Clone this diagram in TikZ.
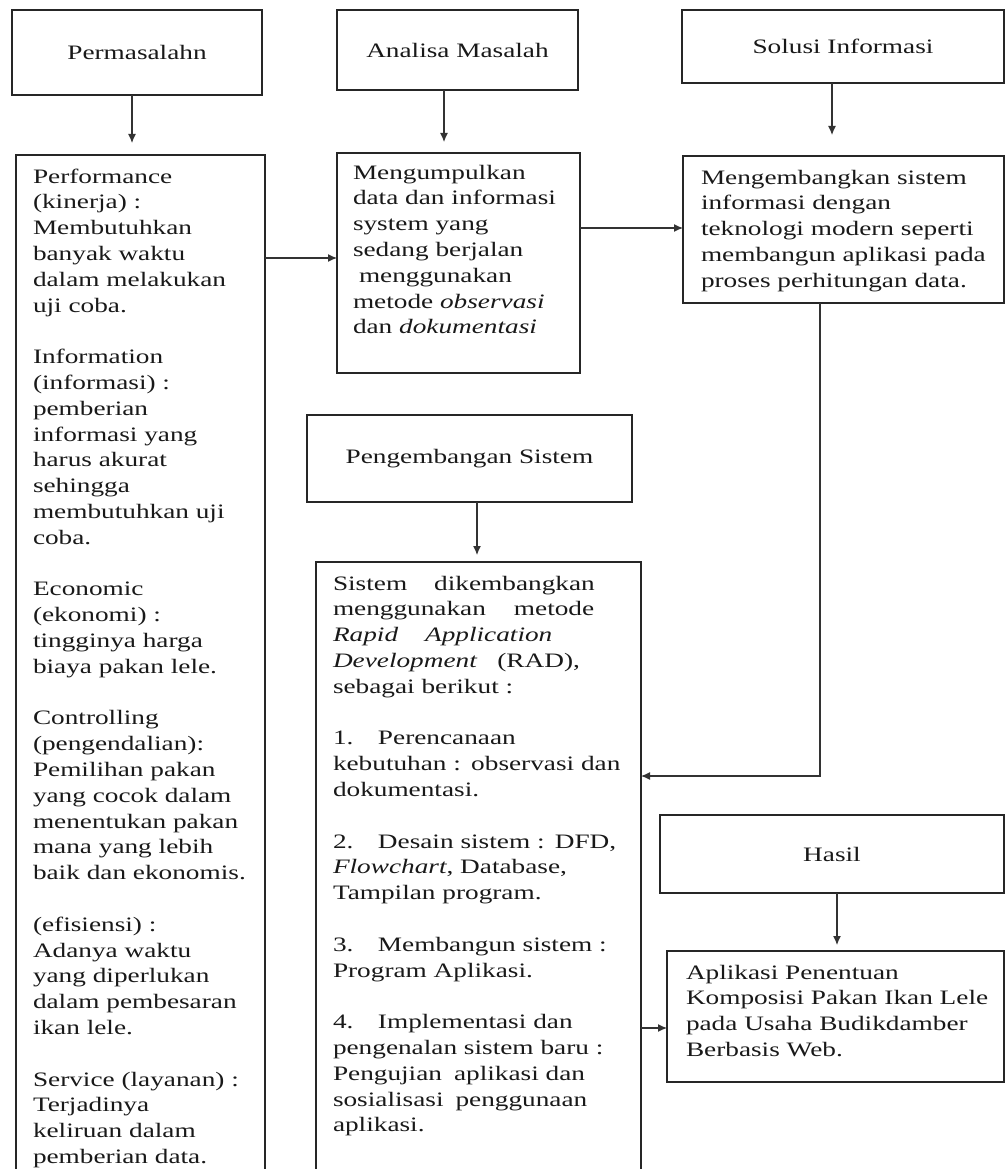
\documentclass[tikz,border=0pt]{standalone}
\usepackage{fontspec}
\setmainfont{Liberation Serif}[FakeStretch=1.33]
\usetikzlibrary{arrows.meta}
\newcommand{\bodyfont}{\fontsize{20.5pt}{25.8pt}\selectfont}
\tikzset{
  box/.style={draw=black!85, line width=1.7pt, inner sep=0pt, outer sep=0pt, text=black!90, font=\bodyfont},
  txt/.style={anchor=north west, inner sep=0pt, outer sep=0pt, align=left, text width=330pt, text=black!90, font=\bodyfont},
  arr/.style={draw=black!80, line width=1.2pt, -{Latex[length=9pt,width=8pt]}},
}
\begin{document}
\begin{tikzpicture}[x=1pt,y=-1pt]
\useasboundingbox (0,0) rectangle (1007,1169);
\clip (0,0) rectangle (1007,1169);
\fill[white] (0,0) rectangle (1007,1169);

% boxes
\node[box, minimum width=250pt, minimum height=85pt] (P) at (137,52.5) {Permasalahn};
\node[box, minimum width=241pt, minimum height=80pt] (A) at (457.5,50) {Analisa Masalah};
\node[box, minimum width=322pt, minimum height=73pt] (S) at (843,46.5) {Solusi Informasi};
\node[box, minimum width=249pt, minimum height=1030pt] (P2) at (140.5,670) {};
\node[box, minimum width=243pt, minimum height=220pt] (A2) at (458.5,263) {};
\node[box, minimum width=321pt, minimum height=147pt] (S2) at (843.5,229.5) {};
\node[box, minimum width=325pt, minimum height=87pt] (Pg) at (469.5,458.5) {Pengembangan Sistem};
\node[box, minimum width=325pt, minimum height=623pt] (R) at (478.5,873.5) {};
\node[box, minimum width=344pt, minimum height=78pt] (H) at (832,854) {Hasil};
\node[box, minimum width=337pt, minimum height=131pt] (Ap) at (835.5,1016.5) {};

% texts
\node[txt] (P2t) at (33,165) {\strut Performance\\(kinerja) :\\Membutuhkan\\banyak waktu\\dalam melakukan\\uji coba.\\[25.8pt]Information\\(informasi) :\\pemberian\\informasi yang\\harus akurat\\sehingga\\membutuhkan uji\\coba.\\[25.8pt]Economic\\(ekonomi) :\\tingginya harga\\biaya pakan lele.\\[25.8pt]Controlling\\(pengendalian):\\Pemilihan pakan\\yang cocok dalam\\menentukan pakan\\mana yang lebih\\baik dan ekonomis.\\[25.8pt](efisiensi) :\\Adanya waktu\\yang diperlukan\\dalam pembesaran\\ikan lele.\\[25.8pt]Service (layanan) :\\Terjadinya\\keliruan dalam\\pemberian data.};

\node[txt] (A2t) at (353,161) {\strut Mengumpulkan\\data dan informasi\\system yang\\sedang berjalan\\\hspace*{6pt}menggunakan\\metode \textit{observasi}\\dan \textit{dokumentasi}};

\node[txt] (S2t) at (701,166) {\strut Mengembangkan sistem\\informasi dengan\\teknologi modern seperti\\membangun aplikasi pada\\proses perhitungan data.};

\node[txt] (Rt) at (333,572) {\strut Sistem\hspace{27pt}dikembangkan\\menggunakan\hspace{28pt}metode\\\textit{Rapid\hspace{27pt}Application}\\\textit{Development}\hspace{20pt}(RAD),\\sebagai berikut :\\[25.8pt]\makebox[45pt][l]{1.}Perencanaan\\kebutuhan : observasi dan\\dokumentasi.\\[25.8pt]\makebox[45pt][l]{2.}Desain sistem : DFD,\\\textit{Flowchart}, Database,\\Tampilan program.\\[25.8pt]\makebox[45pt][l]{3.}Membangun sistem :\\Program Aplikasi.\\[25.8pt]\makebox[45pt][l]{4.}Implementasi dan\\pengenalan sistem baru :\\Pengujian\hspace{12pt}aplikasi dan\\sosialisasi\hspace{12pt}penggunaan\\aplikasi.};

\node[txt] (Apt) at (686,961) {\strut Aplikasi Penentuan\\Komposisi Pakan Ikan Lele\\pada Usaha Budikdamber\\Berbasis Web.};

% connector helpers
\coordinate (xP) at (132,0);
\coordinate (xA) at (444,0);
\coordinate (xS) at (832,0);
\coordinate (yPA) at (0,258);
\coordinate (yAS) at (0,228);
\coordinate (k) at (820,776);
\coordinate (xPg) at (477,0);
\coordinate (xH) at (837,0);
\coordinate (yRA) at (0,1028);

\draw[arr, shorten >=12pt] (P.south -| xP) -- (P2.north -| xP);
\draw[arr, shorten >=11pt] (A.south -| xA) -- (A2.north -| xA);
\draw[arr, shorten >=21pt] (S.south -| xS) -- (S2.north -| xS);
\draw[arr] (P2.east |- yPA) -- (A2.west |- yPA);
\draw[arr] (A2.east |- yAS) -- (S2.west |- yAS);
\draw[arr] (S2.south -| k) -- (k) -- (R.east |- k);
\draw[arr, shorten >=7pt] (Pg.south -| xPg) -- (R.north -| xPg);
\draw[arr, shorten >=6pt] (H.south -| xH) -- (Ap.north -| xH);
\draw[arr] (R.east |- yRA) -- (Ap.west |- yRA);
\end{tikzpicture}
\end{document}
